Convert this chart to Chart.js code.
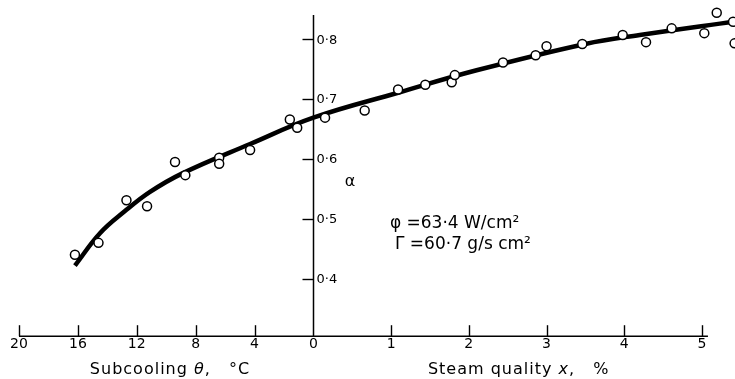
<!DOCTYPE html>
<html>
<head>
<meta charset="utf-8">
<script src="https://cdn.jsdelivr.net/npm/chart.js@4.4.1/dist/chart.umd.min.js"></script>
<style>
html, body { margin: 0; padding: 0; background: #fff; }
#wrap { width: 735px; height: 379px; }
</style>
</head>
<body>
<div id="wrap"><canvas id="myChart"></canvas></div>
<script>
// measured points, subcooled side (theta in degC)
let subTheta = [16.2, 14.6, 12.7, 11.3, 9.4, 8.7, 6.4, 6.4, 4.3, 1.6, 1.1]
let subAlpha = [0.440, 0.460, 0.531, 0.521, 0.595, 0.573, 0.602, 0.592, 0.615, 0.666, 0.652]

// measured points, quality side (x in %)
let qualX = [0.15, 0.66, 1.09, 1.44, 1.78, 1.82, 2.44, 2.86, 3.00, 3.46, 3.98, 4.28, 4.61, 5.03, 5.19, 5.40, 5.42]
let qualAlpha = [0.669, 0.681, 0.716, 0.724, 0.728, 0.740, 0.761, 0.773, 0.788, 0.792, 0.807, 0.795, 0.818, 0.810, 0.844, 0.829, 0.793]

// the drawn curve
let curveTheta = [16.2, 14.5, 12.8, 11.1, 8.9, 4.3, 0]
let curveSubAlpha = [0.422, 0.476, 0.513, 0.545, 0.576, 0.625, 0.669]
let curveX = [1.1, 2.1, 3.5, 4.2, 5.45]
let curveQualAlpha = [0.711, 0.748, 0.792, 0.807, 0.830]

let thetaTicks = [20, 16, 12, 8, 4, 0]
let qualTicks = [1, 2, 3, 4, 5]
let alphaTicks = [0.4, 0.5, 0.6, 0.7, 0.8]

// 1 % of quality is drawn as wide as this many degC of subcooling
const degPerPct = 5.28

let pointData = []
subTheta.forEach(function(t, i) { pointData.push({ x: -t / degPerPct, y: subAlpha[i] }) })
qualX.forEach(function(q, i) { pointData.push({ x: q, y: qualAlpha[i] }) })

let curveData = []
curveTheta.forEach(function(t, i) { curveData.push({ x: -t / degPerPct, y: curveSubAlpha[i] }) })
curveX.forEach(function(q, i) { curveData.push({ x: q, y: curveQualAlpha[i] }) })

const FONT = "'DejaVu Sans', sans-serif"

// axes drawn the way the figure has them: alpha axis crossing at x = 0
let extras = {
    id: 'extras',
    afterDraw(chart) {
        let ctx = chart.ctx
        let xs = chart.scales.x
        let ys = chart.scales.y
        let area = chart.chartArea
        let bottom = area.bottom
        let axisX = Math.round(xs.getPixelForValue(0)) + 0.5
        ctx.save()
        ctx.strokeStyle = '#000'

        // x axis line, from 20 degC to just past 5 %
        ctx.lineWidth = 1.5
        ctx.beginPath()
        ctx.moveTo(xs.getPixelForValue(-20 / degPerPct), bottom)
        ctx.lineTo(xs.getPixelForValue(5.077), bottom)
        ctx.stroke()

        // alpha axis
        ctx.beginPath()
        ctx.moveTo(axisX, area.top)
        ctx.lineTo(axisX, bottom)
        ctx.stroke()

        // x ticks point up, alpha ticks point left
        ctx.lineWidth = 1.4
        xs.ticks.forEach(function(t) {
            if (t.value === 0) return
            let px = Math.round(xs.getPixelForValue(t.value)) + 0.5
            ctx.beginPath()
            ctx.moveTo(px, bottom)
            ctx.lineTo(px, bottom - 11)
            ctx.stroke()
        })
        alphaTicks.forEach(function(a) {
            let py = Math.round(ys.getPixelForValue(a)) + 0.5
            ctx.beginPath()
            ctx.moveTo(axisX - 11, py)
            ctx.lineTo(axisX, py)
            ctx.stroke()
        })

        // alpha labels sit right of the axis
        ctx.fillStyle = '#000'
        ctx.font = '13px ' + FONT
        ctx.textAlign = 'left'
        ctx.textBaseline = 'middle'
        alphaTicks.forEach(function(a) {
            ctx.fillText(a.toFixed(1).replace('.', '·'), axisX + 3, ys.getPixelForValue(a) + 1)
        })

        ctx.textBaseline = 'alphabetic'
        if ('letterSpacing' in ctx) ctx.letterSpacing = '1px'

        function parts(list, x, y) {
            list.forEach(function(p) {
                ctx.font = p[1] + ' 16px ' + FONT
                ctx.fillText(p[0], x, y)
                x += ctx.measureText(p[0]).width
            })
        }
        parts([['Subcooling ', ''], ['θ', 'italic'], [',   °C', '']], xs.getPixelForValue(-2.876), bottom + 38)
        parts([['Steam quality ', ''], ['x', 'italic'], [',   %', '']], xs.getPixelForValue(1.474), bottom + 38)

        if ('letterSpacing' in ctx) ctx.letterSpacing = '0px'
        ctx.font = '16px ' + FONT
        ctx.textAlign = 'center'
        ctx.fillText('α', xs.getPixelForValue(0.47), ys.getPixelForValue(0.555))

        ctx.textAlign = 'left'
        ctx.font = '17px ' + FONT
        ctx.fillText('φ =63·4 W/cm²', xs.getPixelForValue(0.985), ys.getPixelForValue(0.484))
        ctx.fillText('Γ =60·7 g/s cm²', xs.getPixelForValue(1.05), ys.getPixelForValue(0.450))
        ctx.restore()
    }
}

let chart = new Chart(document.getElementById('myChart'), {
    type: 'line',
    data: {
        datasets: [{
                label: 'measured',
                type: 'scatter',
                data: pointData,
                showLine: false,
                pointRadius: 4.5,
                pointBorderWidth: 1.5,
                pointBorderColor: '#000',
                pointBackgroundColor: '#fff',
                clip: false,
                order: 0
            },
            {
                label: 'curve',
                data: curveData,
                borderColor: '#000',
                borderWidth: 4.5,
                pointRadius: 0,
                tension: 0.4,
                clip: false,
                order: 1
            }
        ]
    },
    options: {
        responsive: true,
        maintainAspectRatio: false,
        animation: false,
        layout: { autoPadding: false, padding: { left: 19, right: 0, top: 15, bottom: 26 } },
        plugins: { legend: { display: false }, tooltip: { enabled: false } },
        scales: {
            x: {
                type: 'linear',
                min: -20 / degPerPct,
                max: 5.425,
                position: 'bottom',
                afterBuildTicks: function(s) {
                    s.ticks = thetaTicks.map(function(t) { return { value: t === 0 ? 0 : -t / degPerPct } })
                        .concat(qualTicks.map(function(q) { return { value: q } }))
                },
                ticks: {
                    autoSkip: false,
                    maxRotation: 0,
                    padding: 0,
                    color: '#000',
                    font: { family: FONT, size: 14 },
                    callback: function(v) {
                        if (v < -1e-6) return String(Math.round(-v * degPerPct))
                        return String(Math.round(v))
                    }
                },
                grid: { drawOnChartArea: false, drawTicks: false },
                border: { display: false }
            },
            y: {
                type: 'linear',
                display: false,
                min: 0.3042,
                max: 0.8403
            }
        }
    },
    plugins: [extras]
})
</script>
</body>
</html>
